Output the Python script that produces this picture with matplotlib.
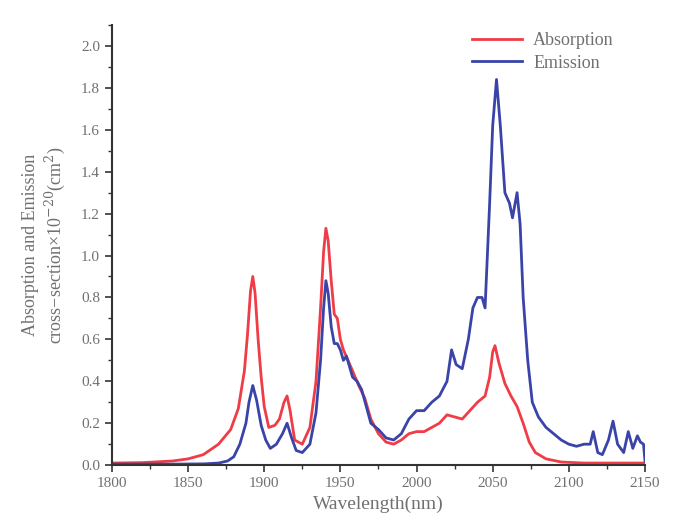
import numpy as np
from matplotlib import pyplot as plt
from matplotlib.ticker import MultipleLocator

# wavelength (nm) and cross-section (x1e-20 cm^2)
abs_wl = [1800, 1820, 1840, 1850, 1860, 1870, 1878, 1883, 1887, 1889, 1891, 1892.5, 1894, 1896,
          1898, 1900, 1903, 1907, 1910, 1913, 1915, 1917, 1920, 1925, 1930, 1934, 1937, 1939,
          1940.5, 1942, 1944, 1946, 1948, 1950, 1952, 1955, 1958, 1962, 1966, 1970, 1975, 1980,
          1985, 1990, 1995, 2000, 2005, 2010, 2015, 2020, 2025, 2030, 2035, 2040, 2045, 2048,
          2050, 2051.5, 2054, 2058, 2062, 2066, 2070, 2074, 2078, 2085, 2095, 2110, 2130, 2150]
abs_val = [0.01, 0.012, 0.02, 0.03, 0.05, 0.1, 0.17, 0.27, 0.45, 0.62, 0.83, 0.9, 0.82, 0.6,
           0.42, 0.28, 0.18, 0.19, 0.22, 0.3, 0.33, 0.26, 0.12, 0.1, 0.18, 0.4, 0.75, 1.02,
           1.13, 1.07, 0.88, 0.72, 0.7, 0.6, 0.55, 0.5, 0.45, 0.38, 0.32, 0.22, 0.15, 0.11,
           0.1, 0.12, 0.15, 0.16, 0.16, 0.18, 0.2, 0.24, 0.23, 0.22, 0.26, 0.3, 0.33, 0.42,
           0.54, 0.57, 0.49, 0.39, 0.33, 0.28, 0.2, 0.11, 0.06, 0.03, 0.015, 0.01, 0.01, 0.01]

emi_wl = [1800, 1840, 1860, 1870, 1876, 1880, 1884, 1888, 1890, 1892.5, 1895, 1898, 1901, 1904,
          1908, 1912, 1915, 1918, 1921, 1925, 1930, 1934, 1937, 1939, 1940.5, 1942, 1944, 1946,
          1948, 1950, 1952, 1954, 1956, 1958, 1961, 1964, 1967, 1970, 1975, 1980, 1985, 1990,
          1995, 2000, 2005, 2010, 2015, 2020, 2023, 2026, 2030, 2034, 2037, 2040, 2043, 2045,
          2048, 2050, 2052.5, 2055, 2058, 2061, 2063, 2066, 2068, 2070, 2073, 2076, 2080, 2085,
          2090, 2095, 2100, 2105, 2110, 2114, 2116, 2119, 2122, 2126, 2129, 2132, 2136, 2139,
          2142, 2145, 2147, 2149, 2150]
emi_val = [0.005, 0.005, 0.006, 0.01, 0.02, 0.04, 0.1, 0.2, 0.3, 0.38, 0.31, 0.19, 0.12, 0.08,
           0.1, 0.15, 0.2, 0.13, 0.07, 0.06, 0.1, 0.25, 0.5, 0.75, 0.88, 0.82, 0.66, 0.58,
           0.58, 0.55, 0.5, 0.52, 0.47, 0.42, 0.4, 0.36, 0.28, 0.2, 0.17, 0.13, 0.12, 0.15,
           0.22, 0.26, 0.26, 0.3, 0.33, 0.4, 0.55, 0.48, 0.46, 0.6, 0.75, 0.8, 0.8, 0.75,
           1.25, 1.62, 1.84, 1.62, 1.3, 1.25, 1.18, 1.3, 1.15, 0.8, 0.5, 0.3, 0.23, 0.18,
           0.15, 0.12, 0.1, 0.09, 0.1, 0.1, 0.16, 0.06, 0.05, 0.12, 0.21, 0.1, 0.06, 0.16,
           0.08, 0.14, 0.11, 0.1, 0.02]

plt.rcParams['font.family'] = ['Liberation Serif', 'DejaVu Serif']
plt.rcParams['mathtext.fontset'] = 'dejavuserif'
txt = '#707070'

fig = plt.figure(figsize=(6.74, 5.31), dpi=100)
ax = fig.add_axes([0.166, 0.124, 0.791, 0.829])

ax.plot(abs_wl, abs_val, color='#f03c46', lw=2, label='Absorption')
ax.plot(emi_wl, emi_val, color='#3a44a8', lw=2, label='Emission')

ax.set_xlim(1800, 2150)
ax.xaxis.set_major_locator(MultipleLocator(50))
ax.xaxis.set_minor_locator(MultipleLocator(25))
yt = np.arange(0, 2.01, 0.2)
ax.set_yticks(yt)
ax.set_yticklabels(['%.1f' % v for v in yt])
ax.yaxis.set_minor_locator(MultipleLocator(0.1))
ax.set_ylim(0, 2.1)

for s in ['top', 'right']:
    ax.spines[s].set_visible(False)
for s in ['left', 'bottom']:
    ax.spines[s].set_color('#333333')
    ax.spines[s].set_linewidth(1.5)
ax.tick_params(which='major', direction='out', length=5, width=1.2, colors='#333333',
               labelcolor=txt, labelsize=11)
ax.tick_params(which='minor', direction='out', length=3, width=1, colors='#333333')

ax.set_xlabel('Wavelength(nm)', color=txt, fontsize=14, labelpad=4)
ax.set_ylabel('Absorption and Emission\ncross\u2212section\u00d710$^{-20}$(cm$^2$)',
              color=txt, fontsize=13, labelpad=10)

leg = ax.legend(loc='upper right', bbox_to_anchor=(0.955, 1.0), frameon=False,
                fontsize=13, handlelength=2.8, handletextpad=0.6, labelspacing=0.3,
                borderaxespad=0.0)
for t in leg.get_texts():
    t.set_color(txt)

fig.savefig('out.png', dpi=100)
